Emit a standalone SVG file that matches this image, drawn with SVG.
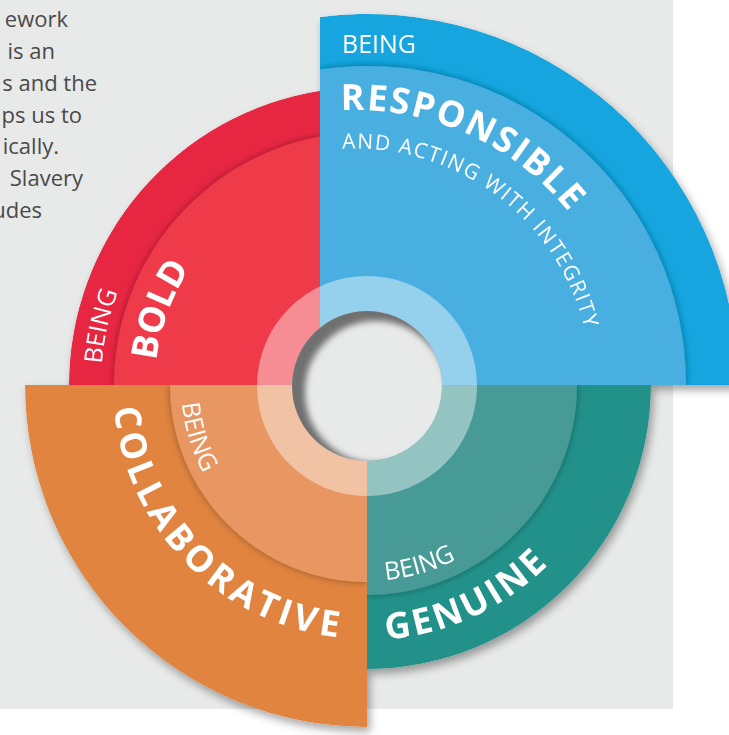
<svg xmlns="http://www.w3.org/2000/svg" width="729" height="735" viewBox="0 0 729 735">
<defs>
<style>
.body{font-family:"Open Sans","Noto Sans",sans-serif;font-size:22px;fill:#4a4a4a}
.lbl{font-family:"Open Sans","Noto Sans",sans-serif;fill:#ffffff}
.reg{font-size:25px;font-weight:400}
.big{font-size:36px;font-weight:700}
.sub{font-size:21px;font-weight:400}
</style>
<filter id="drop" x="-10%" y="-10%" width="130%" height="130%"><feDropShadow dx="3" dy="5" stdDeviation="4" flood-color="#000" flood-opacity="0.35"/></filter>
<filter id="glow" x="-20%" y="-20%" width="140%" height="140%"><feDropShadow dx="0" dy="0" stdDeviation="3.5" flood-color="#000" flood-opacity="0.35"/></filter>
<filter id="blur3" x="-20%" y="-20%" width="140%" height="140%"><feGaussianBlur stdDeviation="3"/></filter>
<clipPath id="cRed"><path d="M320,385 L69,385 A298,298 0 0 1 320,90.7 Z"/></clipPath>
<clipPath id="cBlue"><path d="M320,385 L320,17 A371,371 0 0 1 738,385 Z"/></clipPath>
<clipPath id="cTeal"><path d="M367,385 L651,385 A284,284 0 0 1 367,669 Z"/></clipPath>
<clipPath id="cOrange"><path d="M367,385 L367,727 A342,342 0 0 1 25,385 Z"/></clipPath>
<clipPath id="cHole"><circle cx="367" cy="386" r="75"/></clipPath>
<path id="pResp" d="M194.1,161.9 A275,275 0 0 1 628.6,357.2"/>
<path id="pAnd" d="M261.3,167.9 A236.5,236.5 0 0 1 589.9,412.4"/>
<path id="pBold" d="M204.6,521.3 A212,212 0 0 1 330.2,176.2"/>
<path id="pRedBeing" d="M187.3,581.1 A266,266 0 0 1 287.0,131.3"/>
<path id="pOrBeing" d="M231.0,258.1 A186,186 0 0 0 325.2,566.2"/>
<path id="pColl" d="M121.9,318.4 A254,254 0 0 0 431.9,630.6"/>
<path id="pTealBeing" d="M231.3,526.5 A196,196 0 0 0 557.3,431.7"/>
<path id="pGen" d="M221.1,594.2 A255,255 0 0 0 621.1,406.8"/>
</defs>
<rect x="0" y="0" width="729" height="735" fill="#ffffff"/>
<rect x="0" y="0" width="673" height="709" fill="#e8e9e9"/>
<g id="intro-text" class="body" text-anchor="end">
<text x="68" y="27">ework</text>
<text x="55" y="59">is an</text>
<text x="97" y="91">s and the</text>
<text x="82" y="123">ps us to</text>
<text x="59" y="154">ically.</text>
<text x="83" y="186">Slavery</text>
<text x="42" y="218">udes</text>
</g>
<g id="wheel" filter="url(#drop)">
<g id="being-bold" clip-path="url(#cRed)">
<path d="M320,385 L69,385 A298,298 0 0 1 320,90.7 Z" fill="#e72643"/>
<path d="M320,385 L114,385 A253,253 0 0 1 320,136.4 Z" fill="#ef3a48" filter="url(#glow)"/>
</g>
<g id="being-responsible" clip-path="url(#cBlue)">
<path d="M320,385 L320,17 A371,371 0 0 1 738,385 Z" fill="#12a5de"/>
<path d="M320,385 L320,69.5 A319,319 0 0 1 686,385 Z" fill="#49aee0" filter="url(#glow)"/>
</g>
<g id="being-genuine" clip-path="url(#cTeal)">
<path d="M367,385 L651,385 A284,284 0 0 1 367,669 Z" fill="#21918a"/>
<path d="M367,385 L577,385 A210,210 0 0 1 367,595 Z" fill="#469a96" filter="url(#glow)"/>
</g>
<g id="being-collaborative" clip-path="url(#cOrange)">
<path d="M367,385 L367,727 A342,342 0 0 1 25,385 Z" fill="#e0843f"/>
<path d="M367,385 L367,582 A197,197 0 0 1 170,385 Z" fill="#e89762" filter="url(#glow)"/>
</g>
</g>
<g id="center">
<path d="M257,386 A110,110 0 1 0 477,386 A110,110 0 1 0 257,386 Z M292,386 A75,75 0 1 1 442,386 A75,75 0 1 1 292,386 Z" fill="#ffffff" fill-opacity="0.42" fill-rule="evenodd"/>
<circle cx="367" cy="386" r="75" fill="#e8e9e9"/>
<g clip-path="url(#cHole)">
<circle cx="376" cy="392" r="81" fill="none" stroke="#6f6f6f" stroke-width="20" filter="url(#blur3)"/>
</g>
</g>
<g id="labels" class="lbl">
<text class="reg" x="342" y="53">BEING</text>
<text class="big" font-size="38" text-anchor="middle" letter-spacing="1.8"><textPath href="#pResp" startOffset="50%">RESPONSIBLE</textPath></text>
<text class="sub" text-anchor="middle" letter-spacing="1.5"><textPath href="#pAnd" startOffset="50%">AND ACTING WITH INTEGRITY</textPath></text>
<text class="reg" font-size="24" text-anchor="middle"><textPath href="#pRedBeing" startOffset="50%">BEING</textPath></text>
<text class="big" text-anchor="middle"><textPath href="#pBold" startOffset="50%">BOLD</textPath></text>
<text class="reg" text-anchor="middle"><textPath href="#pOrBeing" startOffset="50%">BEING</textPath></text>
<text class="big" text-anchor="middle" letter-spacing="4.3"><textPath href="#pColl" startOffset="50%">COLLABORATIVE</textPath></text>
<text class="reg" text-anchor="middle"><textPath href="#pTealBeing" startOffset="50%">BEING</textPath></text>
<text class="big" text-anchor="middle" letter-spacing="3"><textPath href="#pGen" startOffset="50%">GENUINE</textPath></text>
</g>
<g id="connectors"/>
</svg>
